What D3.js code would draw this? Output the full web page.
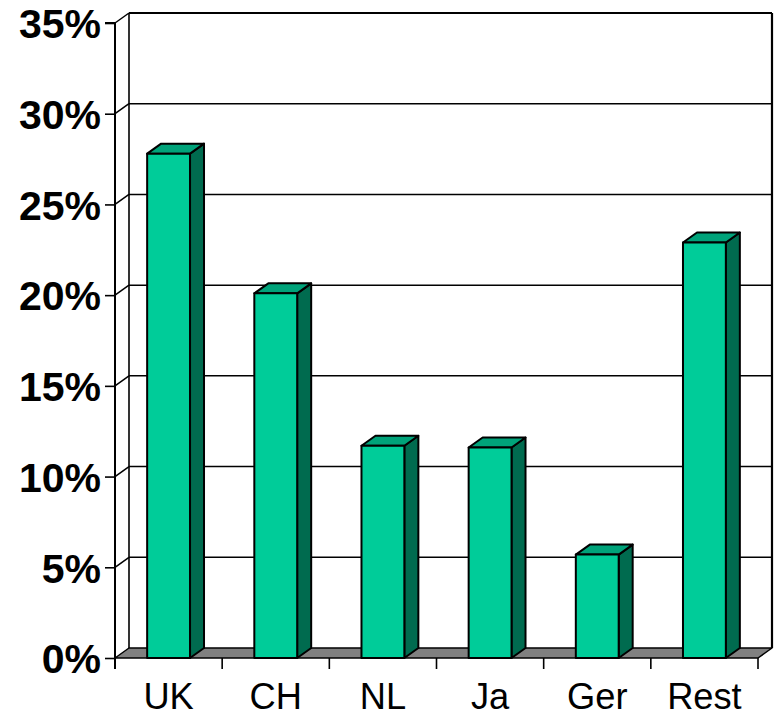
<!DOCTYPE html>
<html>
<head>
<meta charset="utf-8">
<script src="https://cdn.jsdelivr.net/npm/d3@7"></script>
<style>
  html, body { margin: 0; padding: 0; background: #fff; }
  svg { display: block; }
</style>
</head>
<body>
<svg id="chart" width="775" height="717"></svg>
<script>
// ---- data ----
const categories = ["UK", "CH", "NL", "Ja", "Ger", "Rest"];
const shares = [27.8, 20.1, 11.7, 11.6, 5.7, 22.9];
const yTicks = [0, 5, 10, 15, 20, 25, 30, 35];
const yTickLabels = ["0%", "5%", "10%", "15%", "20%", "25%", "30%", "35%"];

// ---- layout ----
const svg = d3.select("#chart");
const X0 = 115, X1 = 758;     // front plot edges
const DX = 14, DY = -10;      // 3-D depth offset
const colFront = "#00CC99", colTop = "#00A37A", colSide = "#006B4F";

const x = d3.scaleBand().domain(categories).range([X0, X1]).paddingInner(0.6).paddingOuter(0.3);
const xCat = d3.scaleBand().domain(categories).range([X0, X1]).padding(0);
const y = d3.scaleLinear().domain([0, 35]).range([658, 23]);

// back wall gridlines (horizontal) + side wall diagonals
const grid = svg.append("g");
yTicks.filter(t => t > 0 && t < 35).forEach(t => {
  grid.append("line")
    .attr("x1", X0 + DX).attr("x2", X1 + DX)
    .attr("y1", y(t) + DY).attr("y2", y(t) + DY)
    .attr("stroke", "#000").attr("stroke-width", 1.5);
});
yTicks.filter(t => t > 0).forEach(t => {
  grid.append("line")
    .attr("x1", X0).attr("y1", y(t))
    .attr("x2", X0 + DX).attr("y2", y(t) + DY)
    .attr("stroke", "#000").attr("stroke-width", 1.5);
});

// wall outlines
const walls = svg.append("g").attr("fill", "none").attr("stroke", "#000").attr("stroke-width", 2.2);
walls.append("line").attr("x1", X0 + DX).attr("x2", X1 + DX).attr("y1", y(35) + DY).attr("y2", y(35) + DY);
walls.append("line").attr("x1", X1 + DX).attr("x2", X1 + DX).attr("y1", y(35) + DY).attr("y2", y(0) + DY);
walls.append("line").attr("x1", X0 + DX).attr("x2", X0 + DX).attr("y1", y(35) + DY).attr("y2", y(0) + DY)
  .attr("stroke-width", 1.6);

// floor
svg.append("path")
  .attr("d", `M${X0},${y(0)} L${X1},${y(0)} L${X1 + DX},${y(0) + DY} L${X0 + DX},${y(0) + DY} Z`)
  .attr("fill", "#808080").attr("stroke", "#000").attr("stroke-width", 1.5).attr("stroke-linejoin", "round");

// front y axis
const yAxis = d3.axisLeft(y).tickValues(yTicks).tickSize(10).tickFormat((d, i) => yTickLabels[i]);
const gy = svg.append("g").attr("transform", `translate(${X0},0)`).call(yAxis);
gy.select(".domain").attr("stroke", "#000").attr("stroke-width", 2)
  .attr("d", `M-10,${y(35)}H0V${y(0) + 11}`);
gy.selectAll(".tick line").attr("stroke", "#000").attr("stroke-width", 1.6);
gy.selectAll(".tick text")
  .attr("x", -14)
  .attr("dy", "0.36em")
  .attr("font-family", "Liberation Sans, Arial, sans-serif")
  .attr("font-weight", "bold")
  .attr("font-size", 41)
  .attr("fill", "#000");

// x tick marks at category boundaries
const bounds = categories.map(c => xCat(c)).concat([X1]);
svg.append("g").selectAll("line").data(bounds).join("line")
  .attr("x1", d => d).attr("x2", d => d)
  .attr("y1", y(0)).attr("y2", y(0) + 11)
  .attr("stroke", "#000").attr("stroke-width", 1.6);

// x labels
svg.append("g").selectAll("text").data(categories).join("text")
  .attr("transform", d => `translate(${xCat(d) + xCat.bandwidth() / 2},709) scale(0.98,1)`)
  .attr("text-anchor", "middle")
  .attr("font-family", "Liberation Sans, Arial, sans-serif")
  .attr("font-size", 37)
  .attr("fill", "#000")
  .text(d => d);

// 3-D bars
const bars = svg.append("g").attr("stroke", "#000").attr("stroke-width", 2).attr("stroke-linejoin", "round");
categories.forEach((c, i) => {
  const bx0 = x(c), bx1 = x(c) + x.bandwidth();
  const top = y(shares[i]), bot = y(0);
  bars.append("path")
    .attr("d", `M${bx1},${top} L${bx1 + DX},${top + DY} L${bx1 + DX},${bot + DY} L${bx1},${bot} Z`)
    .attr("fill", colSide);
  bars.append("path")
    .attr("d", `M${bx0},${top} L${bx0 + DX},${top + DY} L${bx1 + DX},${top + DY} L${bx1},${top} Z`)
    .attr("fill", colTop);
  bars.append("rect")
    .attr("x", bx0).attr("y", top)
    .attr("width", bx1 - bx0).attr("height", bot - top)
    .attr("fill", colFront);
});
</script>
</body>
</html>
